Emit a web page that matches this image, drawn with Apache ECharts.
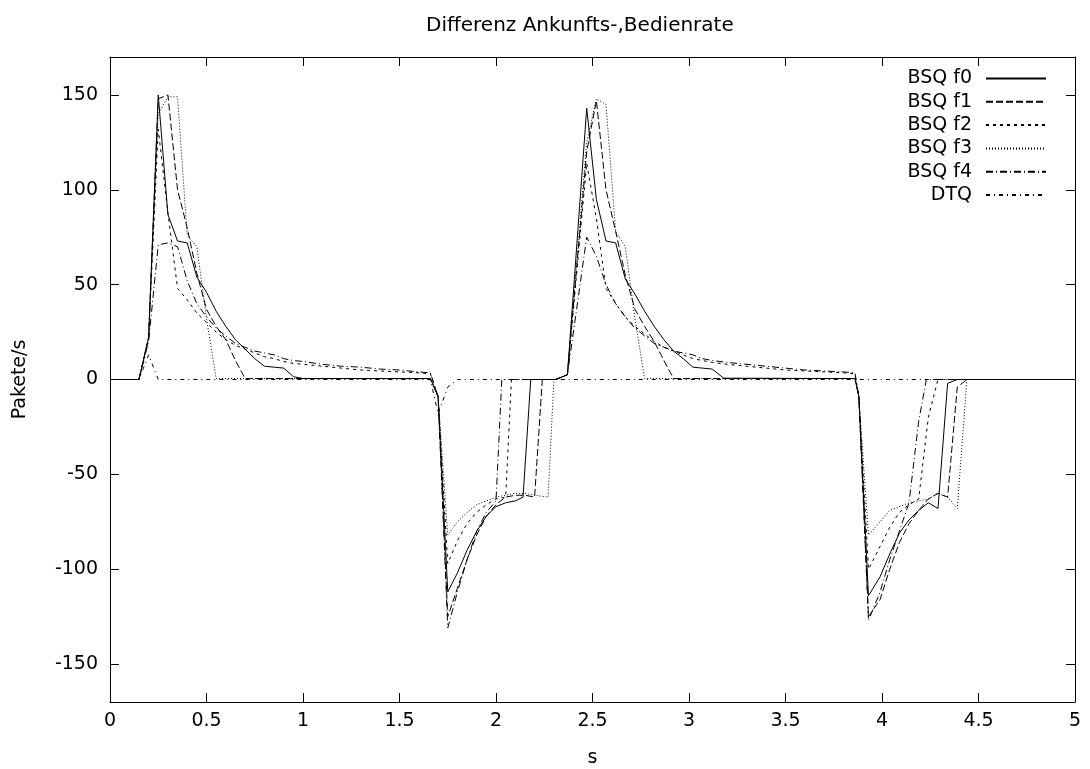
<!DOCTYPE html>
<html><head><meta charset="utf-8">
<script src="https://cdn.jsdelivr.net/npm/echarts@6/dist/echarts.min.js"></script>
<style>html,body{margin:0;padding:0;background:#fff}#c{width:1090px;height:769px}</style>
</head><body><div id="c"></div>
<script>
const seriesNames = ['BSQ f0','BSQ f1','BSQ f2','BSQ f3','BSQ f4','DTQ'];
const xTicks = [0,0.5,1,1.5,2,2.5,3,3.5,4,4.5,5];

const f0 = [[0,0],[0.15,0],[0.2,22],[0.25,150],[0.3,87],[0.35,73],[0.4,72],[0.45,54],[0.5,46],[0.55,36],[0.6,28],[0.65,21],[0.7,16],[0.75,11],[0.8,7],[0.85,6.5],[0.9,6],[0.95,1.5],[1.0,0.5],[1.66,0.5],
 [1.7,-9],[1.75,-112],[1.8,-102],[1.85,-90],[1.9,-80],[1.95,-72],[2.0,-67],[2.05,-65],[2.1,-64],[2.14,-62],[2.18,0],[2.31,0],[2.37,2.5],[2.47,143],[2.52,95],[2.57,73],[2.62,72],[2.67,53],[2.72,45],[2.77,36],[2.82,28],[2.87,21],[2.92,15],[2.97,11],[3.02,6.5],[3.07,6],[3.12,5.5],[3.18,0.7],[3.86,0.5],
 [3.88,-9],[3.93,-114],[3.99,-104],[4.04,-92],[4.09,-81],[4.14,-74],[4.19,-69],[4.24,-65],[4.29,-68],[4.34,-2],[4.39,0],[5,0]];
const f1 = [[0,0],[0.15,0],[0.2,22],[0.25,148],[0.3,150],[0.35,100],[0.4,80],[0.45,56],[0.5,37],[0.55,28],[0.6,21],[0.65,10],[0.7,0.5],[1.66,0.5],
 [1.7,-9],[1.75,-125],[1.8,-110],[1.85,-95],[1.9,-82],[1.95,-72],[2.0,-66],[2.05,-62],[2.1,-61],[2.15,-61],[2.2,-62],[2.24,0],[2.31,0],[2.37,2.5],[2.47,120],[2.52,147],[2.57,100],[2.62,78],[2.67,55],[2.72,37],[2.77,28],[2.82,20],[2.87,10],[2.92,0.5],[3.86,0.5],
 [3.88,-9],[3.93,-125],[3.99,-116],[4.04,-100],[4.09,-86],[4.14,-76],[4.19,-69],[4.24,-63],[4.29,-60],[4.34,-62],[4.39,-4],[4.44,0],[5,0]];
const f2 = [[0,0],[0.15,0],[0.2,22],[0.25,132],[0.3,88],[0.35,48],[0.4,42],[0.45,35],[0.5,30],[0.55,25],[0.6,21],[0.65,18],[0.7,16],[0.75,14],[0.8,12],[0.85,11],[0.9,9.5],[0.95,8.5],[1.0,8],[1.1,7],[1.2,6],[1.3,5],[1.4,4.5],[1.5,4],[1.6,3.5],[1.66,3],
 [1.7,-9],[1.75,-97],[1.8,-85],[1.85,-76],[1.9,-70],[1.95,-66],[2.0,-63],[2.05,-62],[2.08,0],[2.31,0],[2.37,2.5],[2.47,114],[2.52,85],[2.57,48],[2.62,40],[2.67,33],[2.72,28],[2.77,24],[2.82,20],[2.87,17],[2.92,15],[2.97,13],[3.02,11],[3.07,10],[3.12,9],[3.2,8],[3.3,7],[3.4,6],[3.5,5],[3.6,4.5],[3.7,4],[3.8,3.5],[3.86,3],
 [3.88,-9],[3.93,-100],[3.99,-88],[4.04,-78],[4.09,-70],[4.14,-66],[4.19,-63],[4.24,-20],[4.29,0],[5,0]];
const f3 = [[0,0],[0.15,0],[0.2,22],[0.25,140],[0.3,149],[0.35,149],[0.4,76],[0.45,70],[0.5,32],[0.55,0.5],[1.66,0.5],
 [1.7,-9],[1.75,-82],[1.8,-75],[1.85,-70],[1.9,-66],[1.95,-64],[2.0,-62],[2.05,-61],[2.1,-60],[2.15,-60],[2.2,-61],[2.27,-62],[2.3,0],[2.37,2.5],[2.47,125],[2.52,148],[2.57,145],[2.62,78],[2.67,70],[2.72,32],[2.77,0.5],[3.86,0.5],
 [3.88,-9],[3.93,-82],[3.99,-75],[4.04,-69],[4.09,-67],[4.14,-65],[4.19,-64],[4.24,-63],[4.29,-60],[4.34,-62],[4.39,-68],[4.44,0],[5,0]];
const f4 = [[0,0],[0.15,0],[0.2,20],[0.25,71],[0.3,72],[0.35,70],[0.4,52],[0.45,40],[0.5,33],[0.55,27],[0.6,23],[0.65,19],[0.7,17],[0.75,15],[0.8,14],[0.85,13],[0.9,11],[0.95,10],[1.0,9.5],[1.1,8],[1.2,7],[1.3,6.5],[1.4,5.5],[1.5,5],[1.6,4],[1.66,3.5],
 [1.7,-9],[1.75,-131],[1.8,-112],[1.85,-95],[1.9,-80],[1.95,-70],[2.0,-64],[2.03,0],[2.31,0],[2.37,2.5],[2.47,75],[2.52,65],[2.57,50],[2.62,40],[2.67,33],[2.72,27],[2.77,23],[2.82,19],[2.87,17],[2.92,15],[2.97,14],[3.02,13],[3.07,11],[3.12,10],[3.2,9],[3.3,8],[3.4,7],[3.5,6],[3.6,5],[3.7,4.5],[3.8,4],[3.86,3.5],
 [3.88,-9],[3.93,-127],[3.99,-112],[4.04,-95],[4.09,-80],[4.14,-65],[4.19,-22],[4.23,0],[5,0]];
const dtq = [[0,0],[0.15,0],[0.2,13],[0.25,0],[1.66,0],[1.7,-18],[1.75,-4],[1.8,0],[5,0]];

const seriesData = [f0,f1,f2,f3,f4,dtq];
const dashes = ['solid',[7,3],[3,4],[1,2],[7,3,1,3],[4,4,1,4]];

const FONT = '"DejaVu Sans", sans-serif';
const FS = 19;
const chart = echarts.init(document.getElementById('c'), null, {renderer:'canvas'});
const legends = seriesNames.map((n,i)=>({
  data:[n], orient:'vertical', right:43, top:69 + i*23.3, align:'right',
  itemWidth:60, itemHeight:16, itemGap:0, padding:0,
  itemStyle:{opacity:0, borderWidth:0},
  textStyle:{fontFamily:FONT, fontSize:FS, color:'#000', padding:[0,9,0,0]},
  selectedMode:false
}));
const axisCommon = {
  type:'value', splitLine:{show:false},
  axisLine:{show:true, onZero:false, lineStyle:{color:'#000', width:1}},
  axisTick:{show:true, inside:true, length:9, lineStyle:{color:'#000'}}
};
chart.setOption({
  animation:false,
  backgroundColor:'#fff',
  title:{text:'Differenz Ankunfts-,Bedienrate', left:426, top:16, padding:0,
    textStyle:{fontFamily:FONT, fontSize:20, fontWeight:'normal', color:'#000'}},
  legend:legends,
  grid:{left:110, right:15, top:57, bottom:67, containLabel:false, outerBoundsMode:'none'},
  xAxis:[
    Object.assign({}, axisCommon, {min:0, max:5, interval:0.5, position:'bottom',
      name:'s', nameLocation:'middle', nameGap:47,
      nameTextStyle:{fontFamily:FONT, fontSize:FS, color:'#000'},
      axisLabel:{fontFamily:FONT, fontSize:FS, color:'#000', margin:10}}),
    Object.assign({}, axisCommon, {min:0, max:5, interval:0.5, position:'top', axisLabel:{show:false}})
  ],
  yAxis:[
    Object.assign({}, axisCommon, {min:-170, max:170, splitNumber:7, position:'left',
      name:'Pakete/s', nameLocation:'middle', nameGap:80, nameRotate:90,
      nameTextStyle:{fontFamily:FONT, fontSize:FS, color:'#000'},
      axisLabel:{fontFamily:FONT, fontSize:FS, color:'#000', margin:12, showMinLabel:false, showMaxLabel:false}}),
    Object.assign({}, axisCommon, {min:-170, max:170, splitNumber:7, position:'right', axisLabel:{show:false}})
  ],
  series: seriesNames.map((n,i)=>({
    name:n, type:'line', data:seriesData[i], showSymbol:false, symbol:'none',
    xAxisIndex:0, yAxisIndex:0,
    lineStyle:{color:'#000', width:1, type:dashes[i]},
    itemStyle:{color:'#000'}
  }))
});
</script></body></html>
